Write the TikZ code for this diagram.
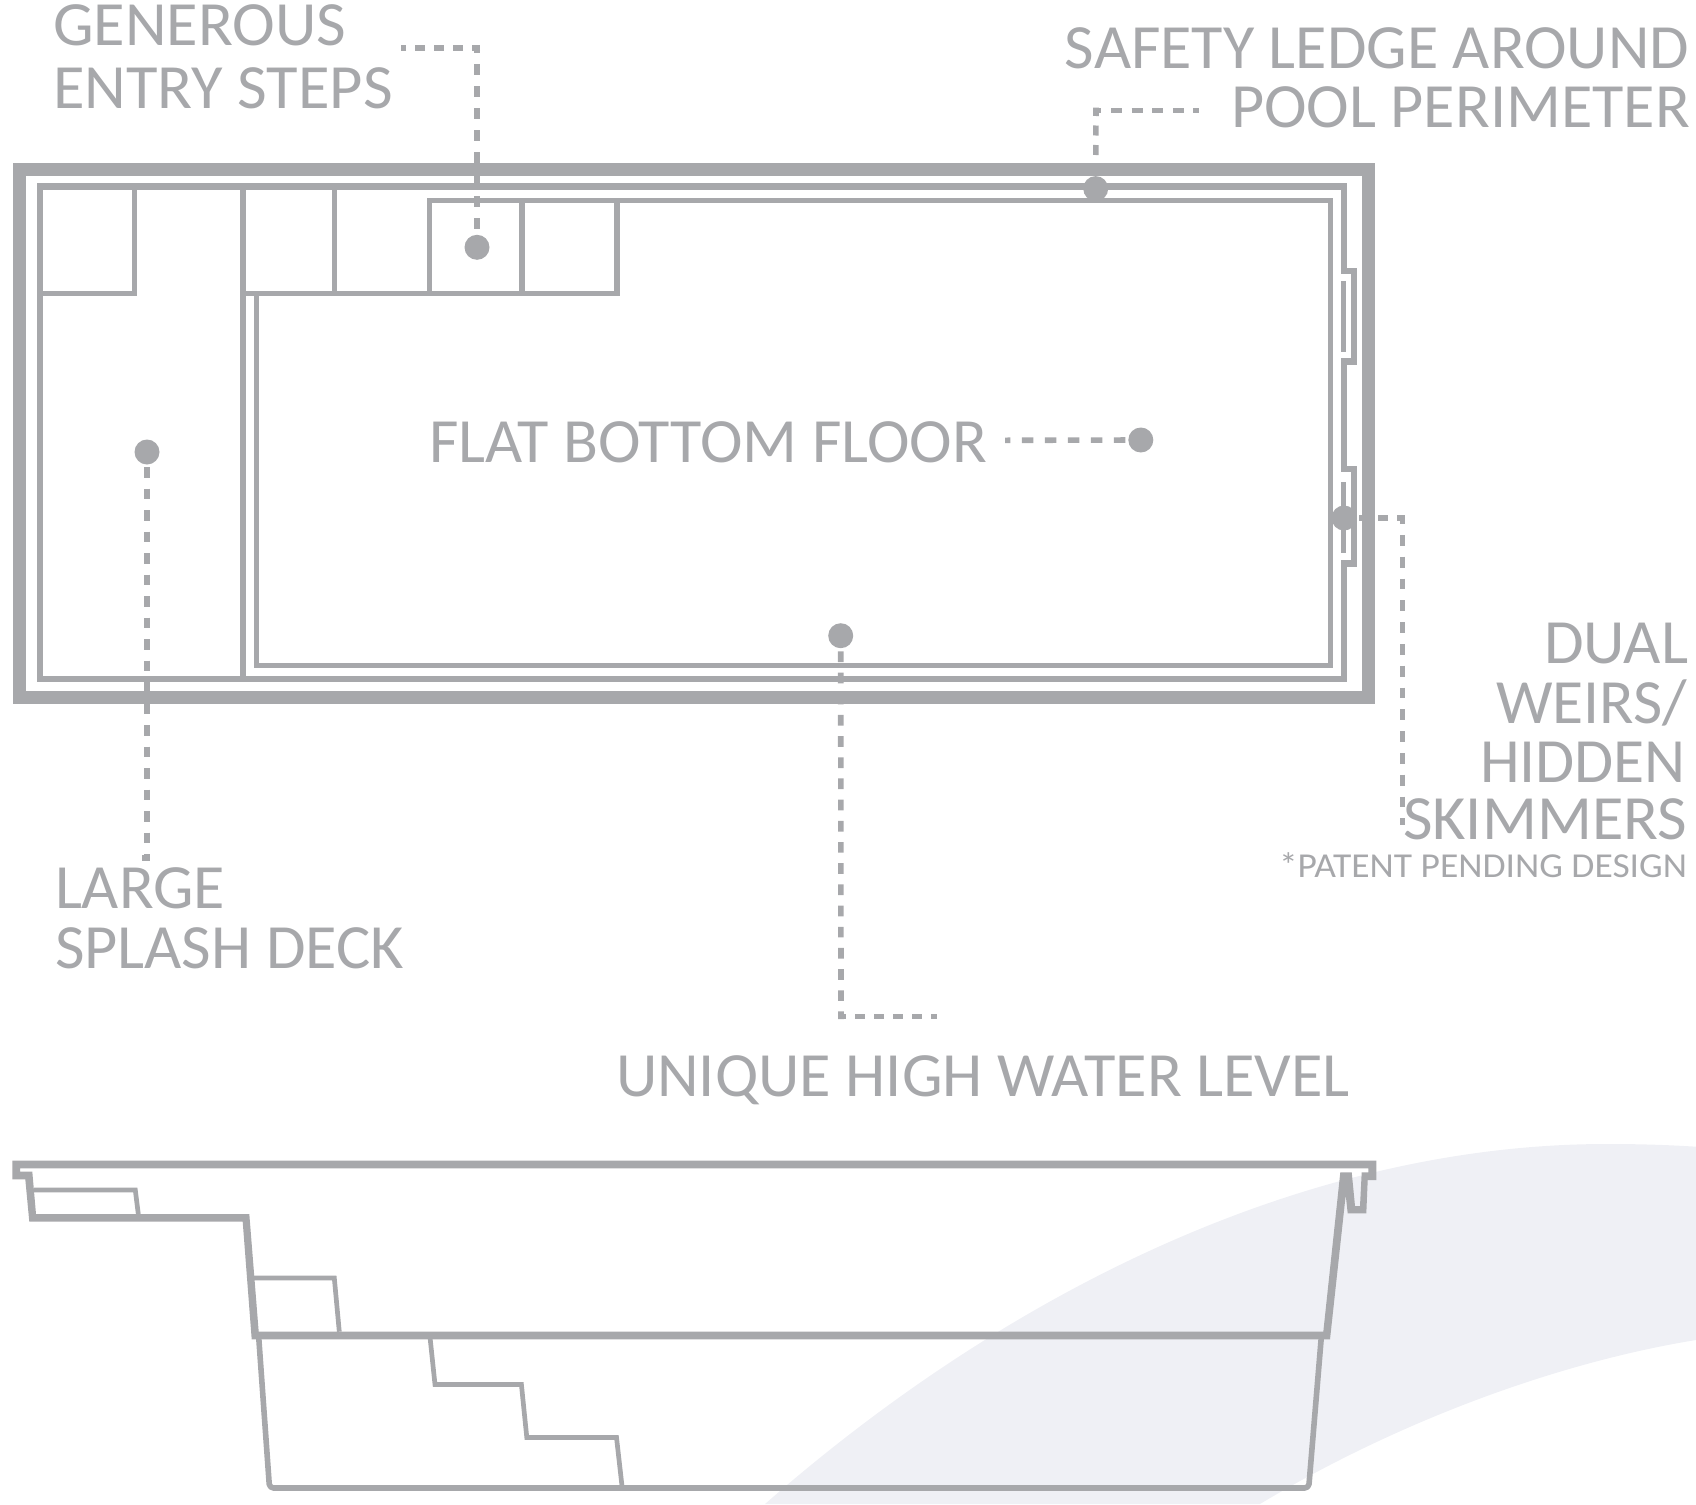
\documentclass[tikz,border=0pt]{standalone}
\usepackage{fontspec}
\usepackage{graphicx}
\setmainfont{Carlito}
\definecolor{pool}{HTML}{A7A8AB}
\definecolor{swoosh}{HTML}{EFF0F5}
\newcommand{\fitw}[2]{\resizebox{#1pt}{\height}{#2}}
\tikzset{
  lab/.style={inner sep=0pt,outer sep=0pt,text=pool,font=\fontsize{63}{63}\selectfont},
  labsmall/.style={inner sep=0pt,outer sep=0pt,text=pool,font=\fontsize{35}{35}\selectfont},
  dotn/.style={circle,fill=pool,inner sep=0pt,minimum size=25pt},
  frame/.style={draw=pool,line width=13pt,miter limit=10},
  ring/.style={draw=pool,line width=6.3pt},
  thin line/.style={draw=pool,line width=5.2pt},
  stepline/.style={draw=pool,line width=4.7pt},
  basin/.style={draw=pool,line width=5.6pt,rounded corners=4pt,line join=round},
  leader/.style={draw=pool,line width=5.6pt}
}
\begin{document}
\begin{tikzpicture}[x=1pt,y=-1pt]
\useasboundingbox (0,0) rectangle (1696,1504);
\clip (0,0) rectangle (1696,1504);
% background swoosh
\fill[swoosh] (765,1504) .. controls (1000,1298) and (1300,1143) .. (1610,1144) .. controls (1640,1144) and (1670,1145) .. (1696,1146.7)
  -- (1696,1340) .. controls (1560,1362) and (1400,1420) .. (1260,1504) -- cycle;
% plan view
\draw[frame] (19.5,169.5) rectangle (1368.5,697.3);
\draw[ring] (40,186.5) -- (1344,186.5) -- (1344,271) -- (1354,271) -- (1354,361.5) -- (1344,361.5) -- (1344,469) -- (1354,469) -- (1354,563.5) -- (1344,563.5) -- (1344,679) -- (40,679) -- cycle;
\fill[pool] (1341,281) rectangle (1346,352);
\fill[pool] (1341,482) rectangle (1346,553);
\draw[thin line] (256.5,293) -- (256.5,665.5) -- (1330.5,665.5) -- (1330.5,200.7) -- (429.5,200.7) -- (429.5,293);
\draw[thin line] (43,293.4) -- (134.5,293.4) -- (134.5,190);
\draw[thin line] (243,190) -- (243,676);
\draw[thin line] (243,293.4) -- (617,293.4) -- (617,200.7);
\draw[thin line] (334.4,190) -- (334.4,293);
\draw[thin line] (522,203) -- (522,293);
% section view
\fill[pool,even odd rule]
  (12.3,1160.7) -- (1376.3,1160.7) -- (1376.3,1180) -- (1367.7,1180) -- (1366.3,1213.3) -- (1347.7,1213.3) -- (1345.7,1195) -- (1330,1339.3) -- (251.7,1339.3) -- (242.7,1221.7) -- (29.3,1221.7) -- (25.3,1179.3) -- (12.3,1179.3) -- cycle
  (20,1168.3) -- (1368.3,1168.3) -- (1368.3,1172.3) -- (1361.7,1172.3) -- (1360,1206) -- (1355,1206) -- (1351.7,1172.3) -- (1340.3,1172.3) -- (1323.3,1331.7) -- (258.7,1331.7) -- (249.3,1214) -- (36,1214) -- (32.3,1171.7) -- (20,1171.7) -- cycle;
\draw[basin] (258.7,1337) -- (269.5,1488) -- (1308.7,1488) -- (1321.3,1337);
\draw[stepline] (430,1337) -- (435,1384.5) -- (521.4,1384.5) -- (526.8,1437.5) -- (616.5,1437.5) -- (622,1486);
\draw[stepline] (34,1190) -- (135.3,1190) -- (138.3,1214);
\draw[stepline] (254,1278) -- (334.3,1278) -- (339.3,1331.7);
% dots
\node[dotn] (d1) at (477,247.3) {};
\node[dotn] (d2) at (1095.7,188.6) {};
\node[dotn] (d3) at (1140.8,440) {};
\node[dotn] (d4) at (1344,518) {};
\node[dotn] (d5) at (147,452) {};
\node[dotn] (d6) at (840.7,635.7) {};
% free ends of connectors
\coordinate (genA) at (480,48);
\coordinate (genB) at (401,48);
\coordinate (genC) at (477,45);
\coordinate (safA) at (1093,110.3);
\coordinate (safB) at (1199,110.3);
\coordinate (safC) at (1096,107.7);
\coordinate (flatA) at (1005,440.3);
\coordinate (dualA) at (1405,518);
\coordinate (dualC) at (1402.5,516);
\coordinate (dualE) at (1402.5,825);
\coordinate (largeE) at (147,858);
\coordinate (largeH) at (142,858);
\coordinate (uniC) at (841,1019);
\coordinate (uniA) at (838,1016.3);
\coordinate (uniB) at (937,1016.3);
% connectors
\draw[leader,dash pattern=on 10pt off 9pt,dash phase=2pt] (genA) -- (genB);
\draw[leader,dash pattern=on 11pt off 11pt,dash phase=3pt] (genC) -- (d1);
\draw[leader,dash pattern=on 11pt off 9.6pt,dash phase=2.6pt] (safA) -- (safB);
\draw[leader,dash pattern=on 10pt off 9.5pt,dash phase=1.7pt] (safC) -- (d2);
\draw[leader,dash pattern=on 11.6pt off 11.4pt,dash phase=6.2pt] (flatA) -- (d3);
\draw[leader,dash pattern=on 10pt off 9pt,dash phase=2pt] (dualA) -- (d4);
\draw[leader,dash pattern=on 10.9pt off 10.9pt,dash phase=2.9pt] (dualC) -- (dualE);
\draw[leader,dash pattern=on 10.75pt off 10.75pt,shorten <=2.3pt] (d5) -- (largeE) -- (largeH);
\draw[leader,dash pattern=on 10.7pt off 10.48pt,shorten <=3pt] (d6) -- (uniC);
\draw[leader,dash pattern=on 10pt off 9pt,dash phase=2pt] (uniA) -- (uniB);
% labels
\node[lab,anchor=base west] (t1) at (53,45.5) {\fitw{293}{GENEROUS}};
\node[lab,anchor=base west] (t2) at (53,108.8) {\fitw{340}{ENTRY STEPS}};
\node[lab,anchor=base east] (t3) at (1689,68.8) {\fitw{624}{SAFETY LEDGE AROUND}};
\node[lab,anchor=base east] (t4) at (1690,127.2) {\fitw{459}{POOL PERIMETER}};
\node[lab,anchor=base west] (t5) at (429,462.2) {\fitw{558}{FLAT BOTTOM FLOOR}};
\node[lab,anchor=base east] (t6) at (1688,663.8) {\fitw{144}{DUAL}};
\node[lab,anchor=base east] (t7) at (1687,723.2) {\fitw{191}{WEIRS/}};
\node[lab,anchor=base east] (t8) at (1686,782.2) {\fitw{206}{HIDDEN}};
\node[lab,anchor=base east] (t9) at (1687,839.8) {\fitw{284}{SKIMMERS}};
\node[labsmall,anchor=base east] (t10) at (1687,877.8) {\fitw{408}{*PATENT PENDING DESIGN}};
\node[lab,anchor=base west] (t11) at (55,908.8) {\fitw{170}{LARGE}};
\node[lab,anchor=base west] (t12) at (55,968.2) {\fitw{349}{SPLASH DECK}};
\node[lab,anchor=base west] (t13) at (616,1096.2) {\fitw{734}{UNIQUE HIGH WATER LEVEL}};
\end{tikzpicture}
\end{document}
